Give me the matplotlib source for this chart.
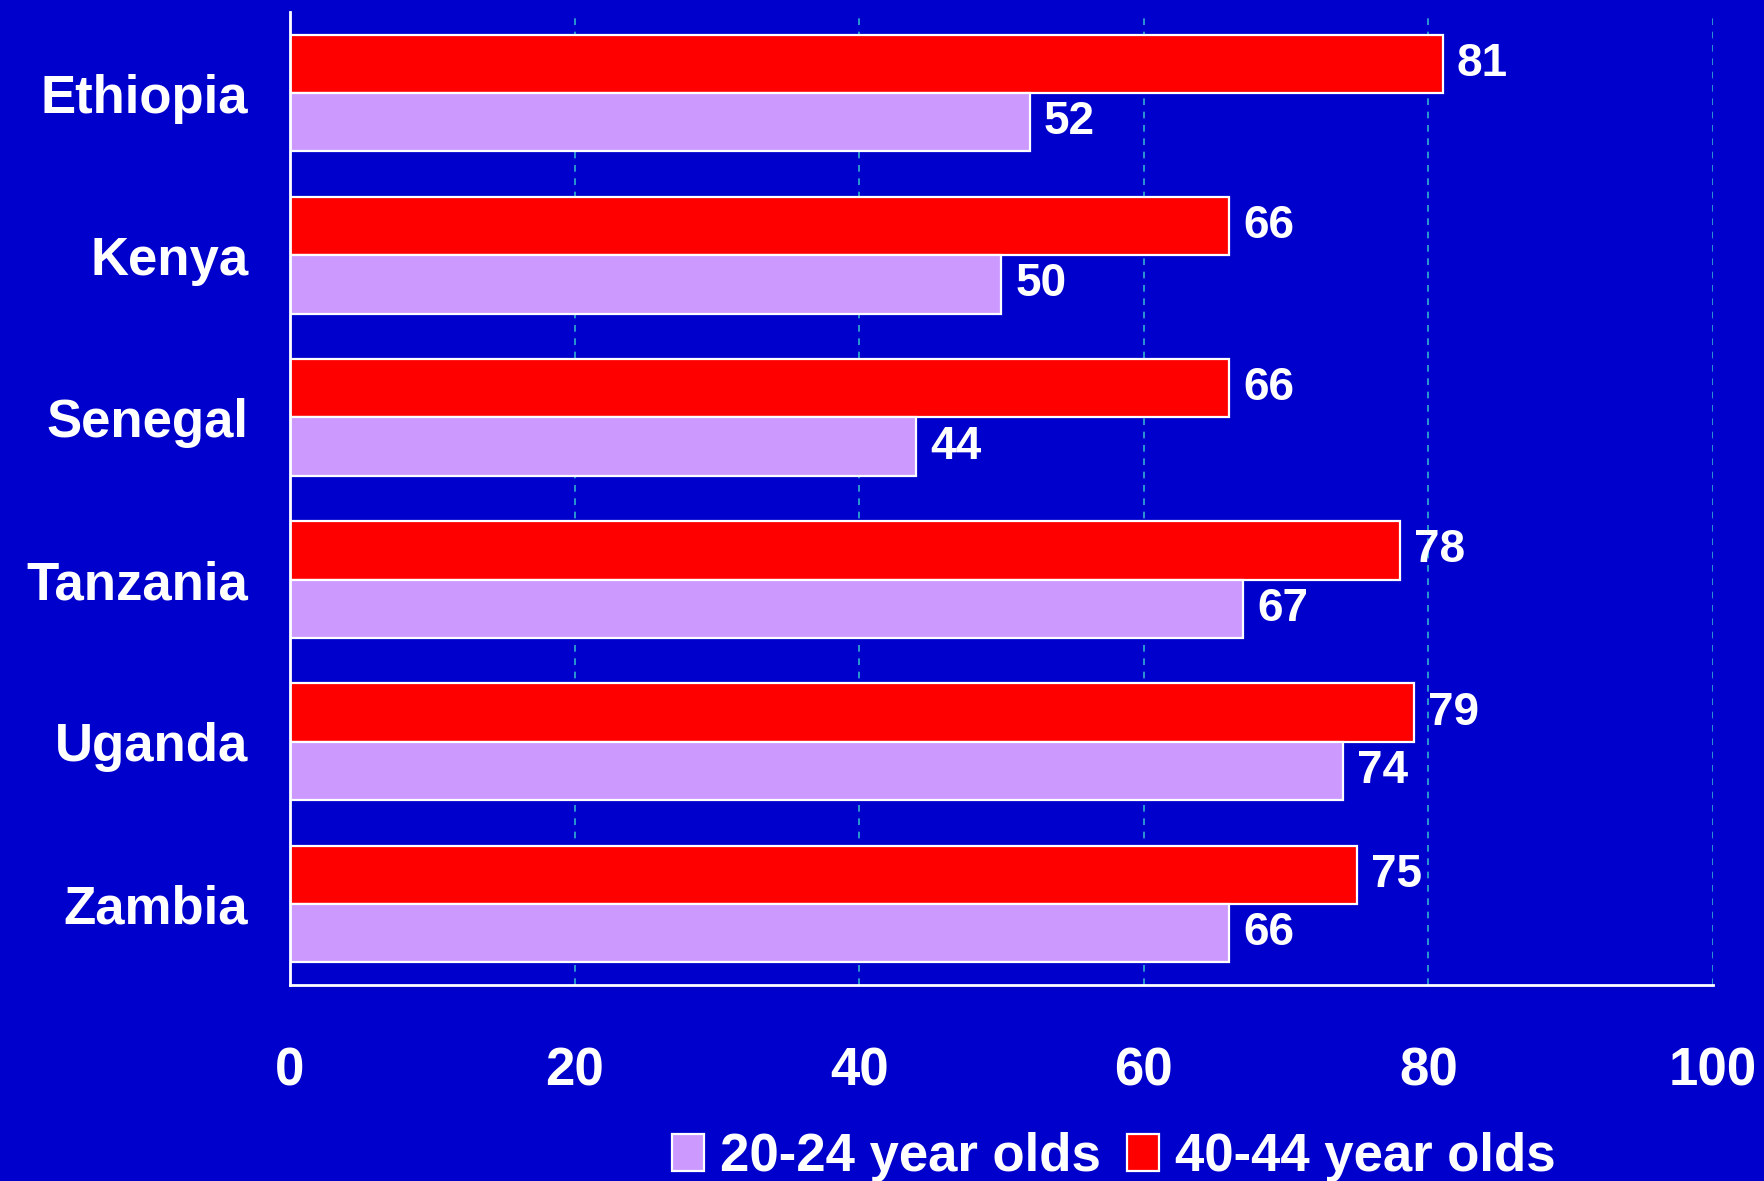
import matplotlib.pyplot as plt
import numpy as np

countries = ["Ethiopia", "Kenya", "Senegal", "Tanzania", "Uganda", "Zambia"]
young = [52, 50, 44, 67, 74, 66]      # 20-24 year olds
older = [81, 66, 66, 78, 79, 75]      # 40-44 year olds
xticks = [0, 20, 40, 60, 80, 100]

BG = "#0000CC"
RED = "#FF0000"
LILAC = "#CC99FF"
GRID = "#2FB0D0"

plt.rcParams["font.family"] = ["Liberation Sans", "DejaVu Sans"]
plt.rcParams["font.weight"] = "bold"

fig = plt.figure(figsize=(17.65, 11.81), dpi=100, facecolor=BG)
ax = fig.add_axes([0.1643, 0.166, 0.8062, 0.8238], facecolor=BG)

y = np.arange(len(countries))
h = 0.36
b_old = ax.barh(y - h / 2, older, height=h, color=RED, edgecolor="white",
                linewidth=1.6, label="40-44 year olds", zorder=3)
b_young = ax.barh(y + h / 2, young, height=h, color=LILAC, edgecolor="white",
                  linewidth=1.6, label="20-24 year olds", zorder=3)

for bars, vals in ((b_old, older), (b_young, young)):
    for bar, v in zip(bars, vals):
        ax.annotate(str(v), (v, bar.get_y() + bar.get_height() / 2),
                    xytext=(10, 0), textcoords="offset points",
                    va="center", ha="left", color="white",
                    fontsize=33, fontweight="bold", zorder=4)

ax.set_xlim(0, 100)
ax.set_ylim(len(countries) - 0.5, -0.5)
ax.set_xticks(xticks)
ax.set_xticklabels([str(t) for t in xticks])
ax.set_yticks(y)
ax.set_yticklabels(countries)
ax.tick_params(axis="x", length=0, pad=44, labelsize=38, labelcolor="white")
ax.tick_params(axis="y", length=0, pad=30, labelsize=38, labelcolor="white")

ax.xaxis.grid(True, color=GRID, linestyle=(0, (4, 4)), linewidth=1.2, zorder=0)
ax.yaxis.grid(False)

for side in ("top", "right"):
    ax.spines[side].set_visible(False)
for side in ("left", "bottom"):
    ax.spines[side].set_color("white")
    ax.spines[side].set_linewidth(2)
    ax.spines[side].set_zorder(5)

fig.legend(handles=[b_young, b_old], labels=["20-24 year olds", "40-44 year olds"],
           loc="center", bbox_to_anchor=(0.631, 0.02), ncol=2, frameon=False,
           fontsize=38, labelcolor="white", handlelength=0.6, handleheight=0.7,
           handletextpad=0.3, columnspacing=0.5, borderaxespad=0)

fig.savefig("out.png", dpi=100, facecolor=BG)
